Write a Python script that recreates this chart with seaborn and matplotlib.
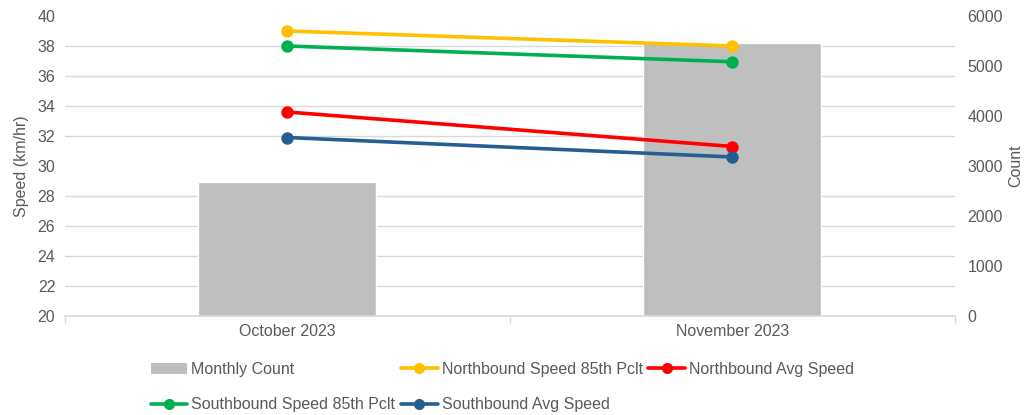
import pandas as pd
import numpy as np
import matplotlib
matplotlib.use('Agg')
import matplotlib.pyplot as plt
from matplotlib.ticker import FixedLocator, MultipleLocator
from matplotlib.patches import Patch
from matplotlib.lines import Line2D
import seaborn as sns

# Data
months = ['October 2023', 'November 2023']
monthly_count = [2680, 5460]
nb_85th = [39.0, 38.0]
nb_avg = [33.6, 31.3]
sb_85th = [38.0, 36.95]
sb_avg = [31.9, 30.6]

series_names = ['Northbound Speed 85th Pclt', 'Northbound Avg Speed',
                'Southbound Speed 85th Pclt', 'Southbound Avg Speed']
series_vals = [nb_85th, nb_avg, sb_85th, sb_avg]
colors = {'Northbound Speed 85th Pclt': '#ffc000',
          'Northbound Avg Speed': '#ff0000',
          'Southbound Speed 85th Pclt': '#00b050',
          'Southbound Avg Speed': '#255e91'}

# long form table for the lines
rows = []
for name, vals in zip(series_names, series_vals):
    for m, v in zip(months, vals):
        rows.append({'Month': m, 'Speed': v, 'Series': name})
df_speed = pd.DataFrame(rows)
df_count = pd.DataFrame({'Month': months, 'Count': monthly_count})

sns.set_theme(style='white')
plt.rcParams['font.family'] = ['Liberation Sans', 'DejaVu Sans']
txt = '#595959'
grid_c = '#d9d9d9'
fs = 11.5

fig = plt.figure(figsize=(10.25, 4.15), dpi=100)
ax_cnt = fig.add_axes([0.0634, 0.2386, 0.8683, 0.7228])
ax_spd = ax_cnt.twinx()

# bars on the count axis (bottom layer)
sns.barplot(data=df_count, x='Month', y='Count', order=months, color='#bfbfbf',
            saturation=1, width=0.4, ax=ax_cnt, zorder=2)
ax_cnt.set_ylim(0, 6000)
ax_cnt.yaxis.set_major_locator(MultipleLocator(1000))

# speed lines on top
sns.pointplot(data=df_speed, x='Month', y='Speed', hue='Series', order=months,
              hue_order=series_names, palette=colors, markers='o', dodge=False,
              markersize=7, linewidth=2.6, ax=ax_spd)
ax_spd.set_ylim(20, 40)
ax_spd.yaxis.set_major_locator(MultipleLocator(2))
if ax_spd.get_legend() is not None:
    ax_spd.get_legend().remove()
ax_spd.set_xlim(-0.5, 1.5)
ax_cnt.set_xlim(-0.5, 1.5)

# gridlines at speed ticks, drawn on the lower axis so bars cover them
spd_ticks = np.arange(20, 41, 2)
grid_pos = (spd_ticks - 20) / 20 * 6000
ax_cnt.yaxis.set_minor_locator(FixedLocator(grid_pos))
ax_cnt.grid(which='minor', axis='y', color=grid_c, lw=1, zorder=0)
ax_cnt.grid(which='major', axis='y', visible=False)
ax_cnt.set_axisbelow(True)

# swap sides: count on right, speed on left
ax_cnt.yaxis.tick_right()
ax_cnt.yaxis.set_label_position('right')
ax_spd.yaxis.tick_left()
ax_spd.yaxis.set_label_position('left')

ax_spd.set_ylabel('Speed (km/hr)', color=txt, fontsize=fs, labelpad=6)
ax_cnt.set_ylabel('Count', color=txt, fontsize=fs, labelpad=4)
ax_cnt.set_xlabel('')
ax_spd.set_xlabel('')

for a in (ax_cnt, ax_spd):
    for s in a.spines.values():
        s.set_visible(False)
ax_cnt.spines['bottom'].set_visible(True)
ax_cnt.spines['bottom'].set_color(grid_c)

ax_cnt.tick_params(axis='y', which='both', length=0, labelsize=fs, labelcolor=txt, pad=9)
ax_spd.tick_params(axis='y', which='both', length=0, labelsize=fs, labelcolor=txt, pad=7)
ax_cnt.tick_params(axis='x', which='major', length=0, labelsize=fs, labelcolor=txt, pad=6)
ax_cnt.xaxis.set_minor_locator(FixedLocator([-0.5, 0.5, 1.5]))
ax_cnt.tick_params(axis='x', which='minor', length=5, color=grid_c, bottom=True)
ax_spd.tick_params(axis='x', which='both', length=0, labelbottom=False)

# legend below
handles = [Patch(facecolor='#bfbfbf', edgecolor='none', label='Monthly Count')]
for name in series_names:
    handles.append(Line2D([0], [0], color=colors[name], lw=2.6, marker='o',
                          markersize=7, label=name))
order = [0, 3, 1, 4, 2]
fig.legend([handles[i] for i in order], [handles[i].get_label() for i in order],
           loc='upper left', bbox_to_anchor=(0.147, 0.128), ncol=3, frameon=False,
           fontsize=fs, labelcolor=txt, handlelength=2.3, handletextpad=0.25,
           columnspacing=0.35, labelspacing=1.28, borderpad=0, borderaxespad=0)

fig.savefig('out.png', dpi=100)
